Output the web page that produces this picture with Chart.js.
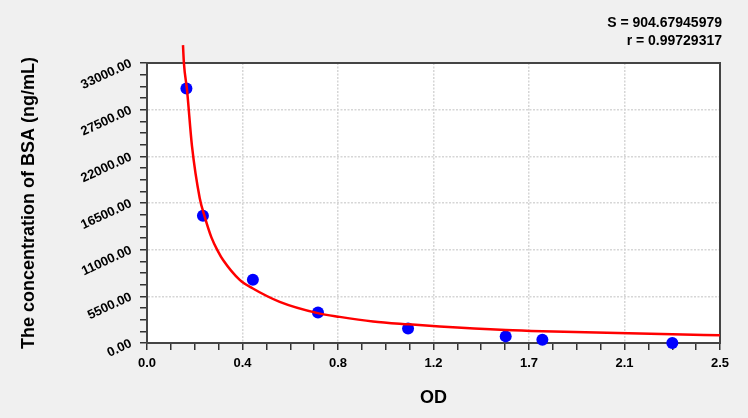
<!DOCTYPE html>
<html><head><meta charset="utf-8">
<script src="https://cdn.jsdelivr.net/npm/chart.js@4.4.0/dist/chart.umd.min.js"></script>
<style>html,body{margin:0;padding:0;background:#f0f0f0;}</style>
</head><body>
<canvas id="c" width="748" height="418"></canvas>
<script>
// Standard points (OD vs concentration)
const standardOD   = [0.172, 0.244, 0.462, 0.746, 1.139, 1.565, 1.725, 2.292];
const standardConc = [30000, 15000, 7450, 3600, 1700, 780, 380, 0];
// Fitted curve
const curveOD   = [0.157, 0.161, 0.1745, 0.1963, 0.2299, 0.2517, 0.281, 0.3098, 0.332, 0.4045, 0.46, 0.579, 0.745, 0.8407, 0.986, 1.142, 1.277, 1.565, 1.726, 2.292, 2.5];
const curveConc = [35100, 33000, 29850, 23200, 17100, 14900, 12450, 10800, 9780, 7440, 6450, 4850, 3520, 3080, 2545, 2200, 1940, 1520, 1375, 1045, 900];
// Axis tick labels
const xTickLabels = ['0.0', '0.4', '0.8', '1.2', '1.7', '2.1', '2.5'];
const yTickLabels = ['0.00', '5500.00', '11000.00', '16500.00', '22000.00', '27500.00', '33000.00'];
const statLines = ['S = 904.67945979', 'r = 0.99729317'];
const xTitle = 'OD';
const yTitle = 'The concentration of BSA (ng/mL)';
const X_MAX = 2.5, Y_MAX = 33000, MINOR = 4;

const FONT = '"Liberation Sans", Arial, sans-serif';

function minorTicks(max, labels) {
  const n = (labels.length - 1) * MINOR;
  return Array.from({length: n + 1}, (_, k) => ({value: k * max / n}));
}

const framePlugin = {
  id: 'frame',
  beforeDraw(chart) {
    const {ctx, chartArea: a} = chart;
    ctx.save();
    ctx.fillStyle = '#f0f0f0';
    ctx.fillRect(0, 0, chart.width, chart.height);
    ctx.fillStyle = '#ffffff';
    ctx.fillRect(a.left, a.top, a.right - a.left, a.bottom - a.top);
    ctx.restore();
  },
  beforeDatasetsDraw(chart) {
    const {ctx, chartArea: a} = chart;
    ctx.save();
    ctx.strokeStyle = '#444444';
    ctx.lineWidth = 2;
    ctx.setLineDash([]);
    ctx.strokeRect(a.left, a.top, a.right - a.left, a.bottom - a.top);
    ctx.restore();
  },
  afterDraw(chart) {
    const {ctx, chartArea: a} = chart;
    ctx.save();
    ctx.fillStyle = '#000';
    ctx.font = 'bold 14px ' + FONT;
    ctx.textAlign = 'right';
    ctx.textBaseline = 'middle';
    ctx.fillText(statLines[0], a.right + 2, 23);
    ctx.fillText(statLines[1], a.right + 2, 41);
    ctx.restore();
  }
};

const gridCfg = {
  color: c => (c.index % MINOR === 0 ? '#d6d6d6' : 'rgba(0,0,0,0)'),
  lineWidth: 1.5,
  drawTicks: true, tickLength: 7, tickColor: '#333333', tickWidth: 1.5, tickBorderDash: []
};
const borderCfg = {display: true, color: '#333333', width: 2, dash: [2, 1.5]};

new Chart(document.getElementById('c'), {
  data: {
    datasets: [
      {
        type: 'line',
        data: curveOD.map((x, i) => ({x, y: curveConc[i]})),
        borderColor: '#ff0000',
        borderWidth: 2.5,
        pointRadius: 0,
        cubicInterpolationMode: 'monotone',
        fill: false,
        clip: {left: 0, top: 25, right: 0, bottom: 0}
      },
      {
        type: 'scatter',
        data: standardOD.map((x, i) => ({x, y: standardConc[i]})),
        backgroundColor: '#0000ff',
        borderColor: '#0000ff',
        pointRadius: 6,
        pointBorderWidth: 0,
        clip: 8
      }
    ]
  },
  options: {
    responsive: false,
    animation: false,
    events: [],
    layout: {padding: {left: 0, right: 28, top: 63, bottom: 0}},
    plugins: {legend: {display: false}, tooltip: {enabled: false}, title: {display: false}},
    scales: {
      x: {
        type: 'linear', position: 'bottom', min: 0, max: X_MAX,
        afterBuildTicks: s => { s.ticks = minorTicks(X_MAX, xTickLabels); },
        afterFit: s => { s.height = 75; },
        ticks: {
          autoSkip: false, maxRotation: 0, minRotation: 0, padding: 6, color: '#000',
          font: {family: FONT, size: 13, weight: 'bold'},
          callback: (v, i) => (i % MINOR === 0 ? xTickLabels[i / MINOR] : '')
        },
        grid: gridCfg,
        border: borderCfg,
        title: {display: true, text: xTitle, color: '#000', font: {family: FONT, size: 18, weight: 'bold'}, padding: {top: 0, bottom: 9}}
      },
      y: {
        type: 'linear', position: 'left', min: 0, max: Y_MAX,
        afterBuildTicks: s => { s.ticks = minorTicks(Y_MAX, yTickLabels); },
        afterFit: s => { s.width = 147; },
        ticks: {
          autoSkip: false, minRotation: 25, maxRotation: 25, padding: 9, color: '#000',
          font: {family: FONT, size: 13, weight: 'bold'},
          callback: (v, i) => (i % MINOR === 0 ? yTickLabels[i / MINOR] : '')
        },
        grid: gridCfg,
        border: borderCfg,
        title: {display: true, text: yTitle, color: '#000', font: {family: FONT, size: 18, weight: 'bold'}, padding: {top: 18, bottom: 0}}
      }
    }
  },
  plugins: [framePlugin]
});
</script>
</body></html>
